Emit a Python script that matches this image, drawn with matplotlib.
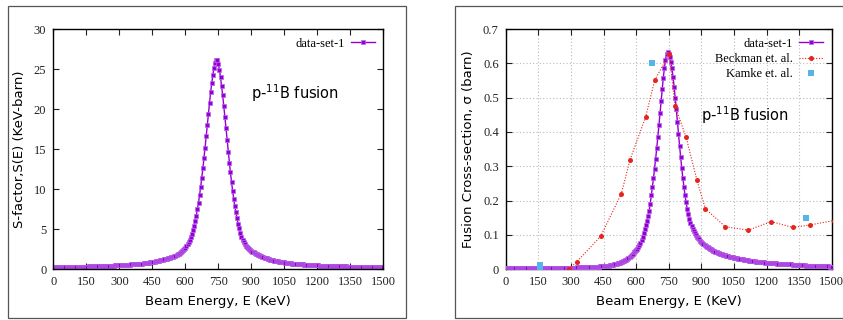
import numpy as np
import matplotlib
matplotlib.use('Agg')
import matplotlib.pyplot as plt
from matplotlib.patches import Rectangle

# beam energy grid (keV) for the model curves, 5 keV steps
energy = np.arange(0, 1505, 5)

# S-factor (keV-barn)
s_factor = [
    0.25, 0.25, 0.26, 0.26, 0.26, 0.26, 0.27, 0.27, 0.27, 0.27,
    0.28, 0.28, 0.28, 0.28, 0.29, 0.29, 0.29, 0.29, 0.30, 0.30,
    0.30, 0.30, 0.31, 0.31, 0.32, 0.32, 0.33, 0.33, 0.33, 0.34,
    0.34, 0.34, 0.35, 0.35, 0.36, 0.36, 0.37, 0.37, 0.38, 0.38,
    0.39, 0.39, 0.40, 0.40, 0.41, 0.41, 0.42, 0.42, 0.43, 0.43,
    0.44, 0.44, 0.45, 0.46, 0.47, 0.47, 0.48, 0.49, 0.50, 0.50,
    0.51, 0.52, 0.53, 0.53, 0.54, 0.55, 0.56, 0.56, 0.57, 0.58,
    0.59, 0.60, 0.61, 0.62, 0.63, 0.64, 0.66, 0.67, 0.68, 0.69,
    0.71, 0.72, 0.74, 0.76, 0.78, 0.80, 0.82, 0.84, 0.86, 0.88,
    0.91, 0.93, 0.96, 0.98, 1.01, 1.04, 1.07, 1.10, 1.13, 1.16,
    1.19, 1.23, 1.27, 1.31, 1.35, 1.39, 1.44, 1.49, 1.54, 1.59,
    1.65, 1.71, 1.78, 1.86, 1.94, 2.03, 2.12, 2.23, 2.35, 2.49,
    2.65, 2.86, 3.10, 3.38, 3.70, 4.03, 4.40, 4.87, 5.40, 6.02,
    6.70, 7.47, 8.30, 9.27, 10.3, 11.4, 12.6, 13.9, 15.2, 16.6,
    18.0, 19.4, 20.8, 22.1, 23.2, 24.2, 25.1, 25.7, 26.1, 26.1,
    25.6, 24.9, 24.0, 22.9, 21.7, 20.4, 19.0, 17.6, 16.1, 14.7,
    13.3, 12.1, 10.9, 9.80, 8.80, 7.90, 7.10, 6.40, 5.70, 5.10,
    4.50, 4.08, 3.70, 3.40, 3.15, 2.96, 2.80, 2.64, 2.50, 2.40,
    2.30, 2.21, 2.12, 2.03, 1.95, 1.87, 1.80, 1.73, 1.66, 1.60,
    1.55, 1.49, 1.44, 1.39, 1.35, 1.30, 1.26, 1.22, 1.18, 1.14,
    1.11, 1.08, 1.05, 1.02, 0.99, 0.96, 0.94, 0.91, 0.89, 0.87,
    0.85, 0.83, 0.81, 0.79, 0.77, 0.75, 0.74, 0.72, 0.71, 0.69,
    0.68, 0.66, 0.65, 0.64, 0.63, 0.62, 0.61, 0.60, 0.59, 0.58,
    0.57, 0.56, 0.55, 0.54, 0.53, 0.52, 0.52, 0.51, 0.50, 0.49,
    0.49, 0.48, 0.47, 0.47, 0.46, 0.45, 0.45, 0.44, 0.44, 0.43,
    0.43, 0.42, 0.42, 0.41, 0.41, 0.40, 0.40, 0.39, 0.39, 0.38,
    0.38, 0.37, 0.37, 0.36, 0.36, 0.35, 0.35, 0.34, 0.34, 0.33,
    0.33, 0.33, 0.33, 0.32, 0.32, 0.31, 0.31, 0.31, 0.31, 0.30,
    0.30, 0.30, 0.29, 0.29, 0.29, 0.28, 0.28, 0.28, 0.28, 0.27,
    0.27, 0.27, 0.27, 0.26, 0.26, 0.26, 0.26, 0.25, 0.25, 0.25,
    0.25,
]

# fusion cross-section (barn), right panel
sigma = [
    0.003, 0.003, 0.003, 0.003, 0.003, 0.003, 0.003, 0.003, 0.003, 0.003,
    0.003, 0.003, 0.003, 0.003, 0.003, 0.003, 0.003, 0.003, 0.003, 0.003,
    0.003, 0.003, 0.003, 0.003, 0.003, 0.003, 0.003, 0.003, 0.004, 0.004,
    0.004, 0.004, 0.004, 0.004, 0.004, 0.004, 0.004, 0.004, 0.004, 0.004,
    0.004, 0.004, 0.004, 0.004, 0.004, 0.004, 0.004, 0.004, 0.005, 0.005,
    0.005, 0.005, 0.005, 0.005, 0.005, 0.005, 0.005, 0.005, 0.005, 0.005,
    0.005, 0.005, 0.005, 0.005, 0.005, 0.005, 0.006, 0.006, 0.006, 0.006,
    0.006, 0.006, 0.006, 0.006, 0.007, 0.007, 0.007, 0.007, 0.007, 0.007,
    0.007, 0.007, 0.008, 0.008, 0.008, 0.008, 0.008, 0.009, 0.009, 0.009,
    0.009, 0.009, 0.010, 0.010, 0.011, 0.011, 0.012, 0.012, 0.013, 0.013,
    0.014, 0.015, 0.016, 0.017, 0.018, 0.019, 0.020, 0.021, 0.023, 0.024,
    0.026, 0.028, 0.030, 0.032, 0.035, 0.038, 0.042, 0.045, 0.049, 0.052,
    0.056, 0.060, 0.065, 0.071, 0.078, 0.085, 0.094, 0.105, 0.117, 0.128,
    0.140, 0.154, 0.170, 0.191, 0.215, 0.240, 0.265, 0.293, 0.322, 0.353,
    0.385, 0.420, 0.455, 0.490, 0.525, 0.557, 0.585, 0.609, 0.628, 0.634,
    0.628, 0.619, 0.605, 0.585, 0.560, 0.532, 0.500, 0.466, 0.430, 0.395,
    0.360, 0.327, 0.295, 0.266, 0.240, 0.216, 0.195, 0.177, 0.160, 0.147,
    0.136, 0.126, 0.118, 0.111, 0.105, 0.100, 0.095, 0.091, 0.087, 0.083,
    0.080, 0.077, 0.074, 0.071, 0.069, 0.066, 0.064, 0.062, 0.060, 0.058,
    0.056, 0.054, 0.053, 0.051, 0.050, 0.048, 0.047, 0.046, 0.045, 0.044,
    0.043, 0.042, 0.041, 0.040, 0.039, 0.038, 0.037, 0.036, 0.035, 0.035,
    0.034, 0.033, 0.032, 0.032, 0.031, 0.030, 0.030, 0.029, 0.029, 0.028,
    0.027, 0.027, 0.026, 0.026, 0.025, 0.025, 0.024, 0.024, 0.023, 0.023,
    0.022, 0.022, 0.022, 0.021, 0.021, 0.021, 0.020, 0.020, 0.020, 0.019,
    0.019, 0.019, 0.018, 0.018, 0.018, 0.018, 0.017, 0.017, 0.017, 0.017,
    0.016, 0.016, 0.016, 0.016, 0.015, 0.015, 0.015, 0.015, 0.014, 0.014,
    0.014, 0.014, 0.014, 0.014, 0.013, 0.013, 0.013, 0.013, 0.013, 0.013,
    0.012, 0.012, 0.012, 0.012, 0.012, 0.012, 0.011, 0.011, 0.011, 0.011,
    0.011, 0.011, 0.010, 0.010, 0.010, 0.010, 0.010, 0.010, 0.010, 0.010,
    0.009, 0.009, 0.009, 0.009, 0.009, 0.009, 0.009, 0.009, 0.008, 0.008,
    0.008,
]

# measured data
beck_E = [293, 327, 437, 532, 572, 644, 686, 753, 779, 830, 880, 919,
          1011, 1117, 1221, 1321, 1399, 1510]
beck_sigma = [0.001, 0.022, 0.096, 0.220, 0.319, 0.444, 0.552, 0.627, 0.476,
              0.385, 0.259, 0.176, 0.124, 0.114, 0.139, 0.122, 0.129, 0.142]
kamke_E = [157, 157, 672, 1384]
kamke_sigma = [0.012, 0.002, 0.602, 0.150]

x_ticks = list(range(0, 1501, 150))
s_ticks = [0, 5, 10, 15, 20, 25, 30]
sig_ticks = [0, 0.1, 0.2, 0.3, 0.4, 0.5, 0.6, 0.7]
sig_labels = ['0', '0.1', '0.2', '0.3', '0.4', '0.5', '0.6', '0.7']

PURPLE = '#9400D3'
RED = '#e8231b'
BLUE = '#56B4E9'
serif = 'Liberation Serif'

fig = plt.figure(figsize=(8.43, 3.2), dpi=100)

# panel frames (boxes around each plot)
fig.patches.append(Rectangle((8 / 843, 2 / 320), 398 / 843, 312 / 320,
                             transform=fig.transFigure, fill=False,
                             edgecolor='#555555', lw=0.9))
fig.patches.append(Rectangle((455 / 843, 2 / 320), 400 / 843, 312 / 320,
                             transform=fig.transFigure, fill=False,
                             edgecolor='#555555', lw=0.9))

ax1 = fig.add_axes([53.3 / 843, 50.7 / 320, 330 / 843, 240.3 / 320])
ax2 = fig.add_axes([505.7 / 843, 50.7 / 320, 326 / 843, 240.3 / 320])


def style(ax):
    ax.set_xlim(0, 1500)
    ax.set_xticks(x_ticks)
    ax.set_xticklabels([str(v) for v in x_ticks], fontfamily=serif)
    ax.tick_params(direction='in', top=True, right=True, length=4,
                   width=0.8, labelsize=9, pad=5, colors='#222222')
    for sp in ax.spines.values():
        sp.set_linewidth(1.0)
    ax.set_xlabel('Beam Energy, E (KeV)', fontsize=9.5, labelpad=5)


curve_kw = dict(color=PURPLE, lw=1.0, marker='s', markersize=2.8,
                markeredgewidth=0.5, markeredgecolor='#b866e8',
                label='data-set-1')

# left: S-factor
ax1.plot(energy, s_factor, **curve_kw)
style(ax1)
ax1.set_ylim(0, 30)
ax1.set_yticks(s_ticks)
ax1.set_yticklabels([str(v) for v in s_ticks], fontfamily=serif)
ax1.set_ylabel('S-factor,S(E) (KeV-barn)', fontsize=9.5, labelpad=6)
ax1.text(900, 22, r'p-$^{11}$B fusion', fontsize=10.5, va='center')
ax1.legend(loc='upper right', frameon=False, markerfirst=False,
           prop={'family': serif, 'size': 9}, handlelength=1.9,
           borderaxespad=0.3, handletextpad=0.5)

# right: cross-section
ax2.grid(True, color='#bbbbbb', linestyle=(0, (1, 2)), lw=0.8)
ax2.set_axisbelow(True)
ax2.plot(energy, sigma, zorder=3, **curve_kw)
ax2.plot(beck_E, beck_sigma, color=RED, lw=0.8, linestyle=(0, (1, 1.5)),
         marker='o', markersize=3.6, markeredgewidth=0, label='Beckman et. al.',
         zorder=4)
ax2.plot(kamke_E, kamke_sigma, linestyle='none', marker='s', markersize=4.2,
         color=BLUE, markeredgewidth=0, label='Kamke et. al.', zorder=5)
style(ax2)
ax2.set_ylim(0, 0.7)
ax2.set_yticks(sig_ticks)
ax2.set_yticklabels(sig_labels, fontfamily=serif)
ax2.set_ylabel('Fusion Cross-section, σ (barn)', fontsize=9.5, labelpad=6)
ax2.text(898, 0.449, r'p-$^{11}$B fusion', fontsize=10.5, va='center')
ax2.legend(loc='upper right', frameon=False, markerfirst=False,
           prop={'family': serif, 'size': 9}, handlelength=1.9,
           borderaxespad=0.3, handletextpad=0.5, labelspacing=0.25)

fig.savefig('out.png', dpi=100)
